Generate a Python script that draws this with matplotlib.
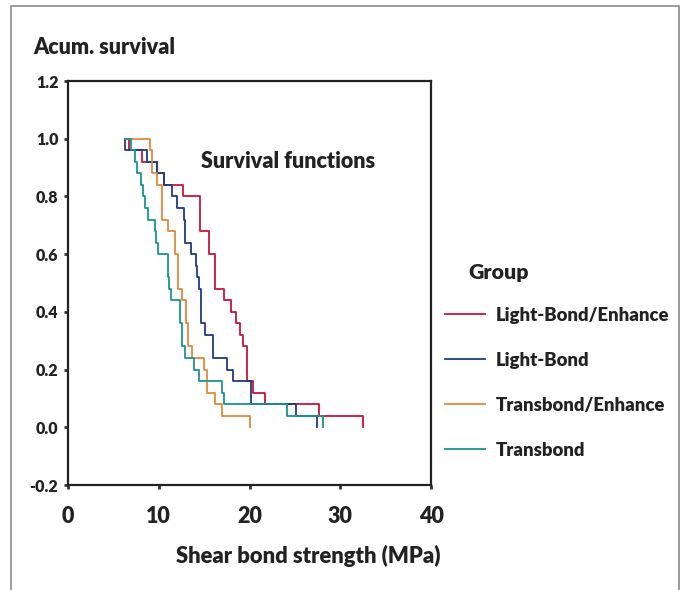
import numpy as np
import matplotlib
matplotlib.use("Agg")
import matplotlib.pyplot as plt
from matplotlib.patches import Rectangle
from matplotlib.lines import Line2D

plt.rcParams['font.family'] = ['Lato', 'DejaVu Sans']
plt.rcParams['font.weight'] = 'bold'
plt.rcParams['axes.unicode_minus'] = False

# Kaplan-Meier data, 25 specimens per group (ties repeated)
groups = ["Light-Bond/Enhance", "Light-Bond", "Transbond/Enhance", "Transbond"]
colors = ["#c8143c", "#1c3c82", "#e0893c", "#17948f"]
n_per_group = 25

start_lbe = 6.7
start_lb = 6.25
start_tbe = 6.25
start_tb = 6.25

times_lbe = [6.7, 8.2, 9.77, 10.6, 12.64, 14.5, 14.5, 14.5, 15.5, 15.5,
             16.2, 16.2, 16.2, 17.15, 17.96, 18.5, 18.95, 19.3, 19.76, 19.76,
             19.76, 20.35, 21.7, 27.7, 32.5]
times_lb = [6.25, 8.67, 9.77, 10.6, 11.5, 12.05, 12.8, 12.9, 12.9, 13.55,
            14.1, 14.25, 14.4, 14.7, 14.7, 14.7, 15.1, 16.0, 16.0, 17.5,
            18.15, 20.2, 20.2, 25.1, 27.4]
times_tbe = [9.04, 9.3, 9.3, 9.77, 10.4, 10.4, 10.4, 11.05, 11.8, 11.8,
             12.15, 12.15, 12.15, 12.6, 13.0, 13.0, 13.2, 13.2, 13.7, 15.0,
             15.35, 15.35, 16.2, 17.0, 20.05]
times_tb = [6.9, 7.4, 7.57, 8.0, 8.3, 8.5, 8.85, 9.6, 9.7, 9.95,
            11.0, 11.0, 11.1, 11.3, 12.3, 12.3, 12.6, 12.6, 12.9, 13.9,
            14.4, 17.0, 17.2, 24.1, 28.07]

starts = [start_lbe, start_lb, start_tbe, start_tb]
all_times = [times_lbe, times_lb, times_tbe, times_tb]

xticks = [0, 10, 20, 30, 40]
yticks = [-0.2, 0.0, 0.2, 0.4, 0.6, 0.8, 1.0, 1.2]

fig = plt.figure(figsize=(6.85, 5.9), dpi=100)
ax = fig.add_axes([68/685, 105/590, (431-68)/685, (485-81)/590])

handles = []
for name, col, st, t in zip(groups, colors, starts, all_times):
    uniq, counts = np.unique(np.sort(t), return_counts=True)
    surv = 1 - np.cumsum(counts) / n_per_group
    x = np.concatenate([[st], uniq])
    y = np.concatenate([[1.0], surv])
    ax.step(x, y, where='post', color=col, lw=1.3)
    handles.append(Line2D([], [], color=col, lw=1.3, label=name))

ax.set_xlim(0, 40)
ax.set_ylim(-0.2, 1.2)
ax.set_xticks(xticks)
ax.set_yticks(yticks)
ax.set_yticklabels(["%.1f" % v for v in yticks], fontsize=11.5, fontweight='heavy')
ax.set_xticklabels([str(v) for v in xticks], fontsize=15.5, fontweight='heavy')
ax.tick_params(axis='both', direction='out', length=3, width=2, color='#333333',
               labelcolor='#222222')
ax.tick_params(axis='x', pad=12)
ax.tick_params(axis='y', pad=4)
for s in ax.spines.values():
    s.set_linewidth(1.6)
    s.set_color('#222222')

ax.text(0.606, 0.80, "Survival functions", transform=ax.transAxes,
        ha='center', va='center', fontsize=15.5, fontweight='heavy', color='#222222')

fig.text(33/685, 1 - 48/590, "Acum. survival", ha='left', va='center',
         fontsize=15.5, fontweight='heavy', color='#222222')
fig.text(308/685, 1 - 556/590, "Shear bond strength (MPa)", ha='center', va='center',
         fontsize=15.8, fontweight='heavy', color='#222222')
fig.text(468/685, 1 - 272/590, "Group", ha='left', va='center',
         fontsize=15.4, fontweight='heavy', color='#222222')

leg = fig.legend(handles=handles, loc='upper left',
                 bbox_to_anchor=(428/685, 1 - 290/590), frameon=False,
                 prop={'size': 13.3, 'weight': 'heavy'}, handlelength=2.2,
                 handletextpad=0.55, labelspacing=1.52)
for txt in leg.get_texts():
    txt.set_color('#222222')

fig.patches.append(Rectangle((11/685, -0.05), (679-11)/685, (590-6)/590 + 0.05,
                             transform=fig.transFigure, fill=False,
                             edgecolor='#8a8a8a', lw=1.2))

fig.savefig("out.png", dpi=100)
